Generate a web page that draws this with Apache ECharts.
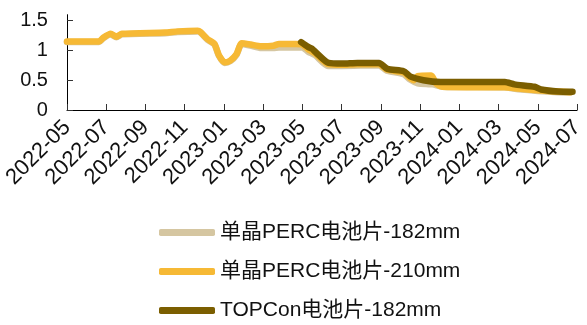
<!DOCTYPE html>
<html>
<head>
<meta charset="utf-8">
<script src="https://cdn.jsdelivr.net/npm/echarts@6/dist/echarts.min.js"></script>
<style>
  html, body { margin: 0; padding: 0; background: #fff; }
  #chart { width: 587px; height: 325px; }
</style>
</head>
<body>
<div id="chart"></div>
<script>
// Series names
const seriesNames = ['单晶PERC电池片-182mm', '单晶PERC电池片-210mm', 'TOPCon电池片-182mm'];

// 单晶PERC电池片-182mm
const dates182 = ['2022-05-01', '2022-06-20', '2022-06-26', '2022-07-08', '2022-07-17', '2022-07-26', '2022-10-01', '2022-10-21', '2022-11-21', '2022-11-25', '2022-12-06', '2022-12-17', '2022-12-24', '2023-01-02', '2023-01-11', '2023-01-21', '2023-01-29', '2023-02-11', '2023-02-26', '2023-03-17', '2023-03-26', '2023-04-21', '2023-05-01', '2023-05-10', '2023-05-21', '2023-06-10', '2023-07-01', '2023-08-29', '2023-09-10', '2023-10-06', '2023-10-16', '2023-10-28', '2023-11-20', '2023-12-05', '2024-03-10', '2024-04-01', '2024-05-01', '2024-06-01', '2024-06-20'];
const vals182 = [1.14, 1.14, 1.20, 1.27, 1.22, 1.27, 1.29, 1.31, 1.32, 1.30, 1.18, 1.10, 0.91, 0.79, 0.82, 0.93, 1.11, 1.08, 1.04, 1.04, 1.05, 1.05, 1.05, 0.98, 0.92, 0.74, 0.74, 0.75, 0.66, 0.60, 0.51, 0.45, 0.43, 0.39, 0.38, 0.35, 0.32, 0.30, 0.29];

// 单晶PERC电池片-210mm
const dates210 = ['2022-05-01', '2022-06-20', '2022-06-26', '2022-07-08', '2022-07-17', '2022-07-26', '2022-10-01', '2022-10-21', '2022-11-21', '2022-11-25', '2022-12-06', '2022-12-17', '2022-12-24', '2023-01-02', '2023-01-11', '2023-01-21', '2023-01-29', '2023-02-11', '2023-02-26', '2023-03-17', '2023-03-26', '2023-04-21', '2023-05-01', '2023-05-10', '2023-05-21', '2023-06-10', '2023-07-01', '2023-07-25', '2023-08-29', '2023-09-10', '2023-10-06', '2023-10-16', '2023-10-22', '2023-10-28', '2023-11-18', '2023-11-25', '2023-12-05', '2024-03-10', '2024-04-01', '2024-05-01', '2024-06-01', '2024-06-20'];
const vals210 = [1.15, 1.15, 1.21, 1.28, 1.23, 1.28, 1.30, 1.32, 1.33, 1.31, 1.19, 1.11, 0.92, 0.80, 0.83, 0.94, 1.12, 1.10, 1.07, 1.08, 1.11, 1.11, 1.10, 1.02, 0.95, 0.77, 0.76, 0.77, 0.77, 0.68, 0.63, 0.54, 0.50, 0.57, 0.58, 0.45, 0.39, 0.38, 0.36, 0.33, 0.31, 0.30];

// TOPCon电池片-182mm
const datesTop = ['2023-04-29', '2023-05-10', '2023-05-16', '2023-05-22', '2023-06-11', '2023-07-02', '2023-07-26', '2023-08-29', '2023-09-11', '2023-10-06', '2023-10-17', '2023-11-06', '2023-12-02', '2024-03-11', '2024-03-26', '2024-04-26', '2024-05-06', '2024-06-02', '2024-06-24'];
const valsTop = [1.14, 1.06, 1.03, 0.97, 0.79, 0.78, 0.79, 0.79, 0.69, 0.65, 0.56, 0.50, 0.47, 0.47, 0.43, 0.39, 0.345, 0.31, 0.305];

// X tick labels, one every two months starting 2022-05
const xTickLabels = ['2022-05', '2022-07', '2022-09', '2022-11', '2023-01', '2023-03', '2023-05', '2023-07', '2023-09', '2023-11', '2024-01', '2024-03', '2024-05', '2024-07'];
const yTickValues = [0, 0.5, 1, 1.5];

// Month offset from 2022-05-01 (fractional within month)
function monthIndex(s) {
  const [y, m, d] = s.split('-').map(Number);
  const dim = new Date(y, m, 0).getDate();
  return (y - 2022) * 12 + (m - 5) + (d - 1) / dim;
}
function pairs(dates, vals) {
  return dates.map((d, i) => [monthIndex(d), vals[i]]);
}

const colors = ['#D5C6A1', '#F6B935', '#7B5E00'];

const chart = echarts.init(document.getElementById('chart'), null, { renderer: 'canvas' });
const fontFamily = '"Liberation Sans", Arial, "Noto Sans CJK SC", sans-serif';

chart.setOption({
  animation: false,
  backgroundColor: '#fff',
  grid: { left: 66, right: 2, top: 14.7, bottom: 215, containLabel: false },
  xAxis: {
    type: 'value',
    min: 0,
    max: 26,
    interval: 2,
    axisLine: { show: true, lineStyle: { color: '#000', width: 1 } },
    axisTick: { show: true, inside: true, length: 6, lineStyle: { color: '#333' } },
    splitLine: { show: false },
    axisLabel: {
      rotate: 45,
      margin: 14,
      fontSize: 22,
      color: '#111',
      fontFamily: fontFamily,
      formatter: v => xTickLabels[Math.round(v / 2)] || ''
    }
  },
  yAxis: {
    type: 'value',
    min: 0,
    max: 1.6,
    interval: 0.5,
    axisLine: { show: true, lineStyle: { color: '#000', width: 1 } },
    axisTick: { show: true, inside: true, length: 6, customValues: yTickValues, lineStyle: { color: '#333' } },
    splitLine: { show: false },
    axisLabel: {
      customValues: yTickValues,
      margin: 19,
      fontSize: 20,
      color: '#111',
      fontFamily: fontFamily,
      formatter: v => String(v)
    }
  },
  legend: {
    orient: 'vertical',
    left: 159,
    top: 222,
    padding: 0,
    height: 110,
    itemWidth: 56,
    itemHeight: 7,
    itemGap: 18,
    icon: 'roundRect',
    textStyle: { fontSize: 21, color: '#111', fontFamily: fontFamily },
    data: seriesNames
  },
  series: [
    { name: seriesNames[0], data: pairs(dates182, vals182) },
    { name: seriesNames[1], data: pairs(dates210, vals210) },
    { name: seriesNames[2], data: pairs(datesTop, valsTop) }
  ].map((s, i) => Object.assign({
    type: 'line',
    showSymbol: false,
    symbol: 'none',
    smooth: 0.2,
    color: colors[i],
    lineStyle: { width: 6.5, color: colors[i], cap: 'round', join: 'round' },
    z: 2 + i
  }, s))
});
</script>
</body>
</html>
